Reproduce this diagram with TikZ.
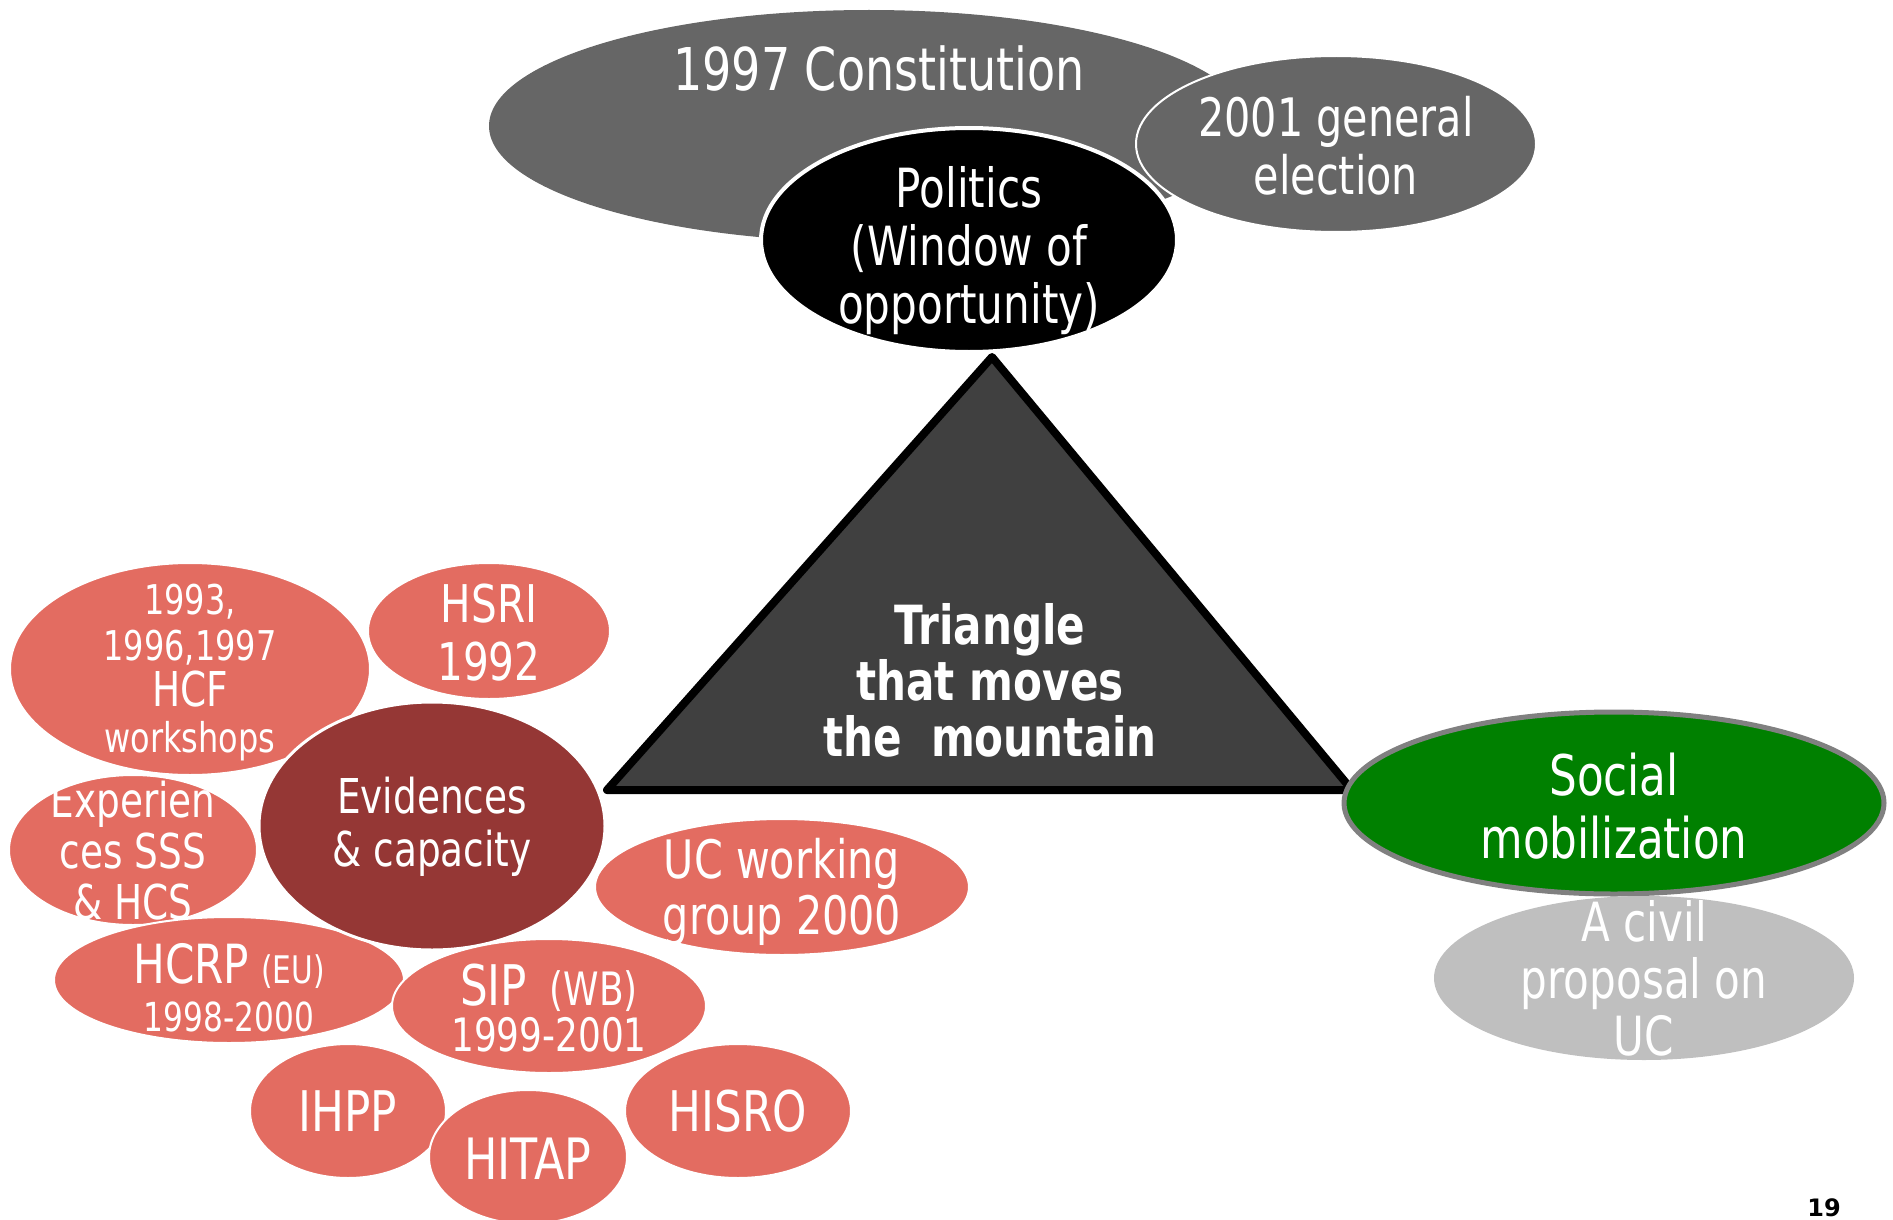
\documentclass[tikz,border=0pt]{standalone}
\usepackage{fontspec}
\newfontfamily\nf[FakeStretch=0.78]{DejaVu Sans}
\newfontfamily\pf{DejaVu Sans}
\definecolor{lred}{RGB}{227,108,97}
\definecolor{dred}{RGB}{149,55,53}
\definecolor{cgray}{RGB}{102,102,102}
\definecolor{tgray}{RGB}{64,64,64}
\definecolor{sgreen}{RGB}{0,128,0}
\definecolor{bgray}{RGB}{128,128,128}
\definecolor{lgray}{RGB}{191,191,191}
\begin{document}
\begin{tikzpicture}[x=1pt,y=-1pt,
  txt/.style={text=white, align=center, inner sep=0pt},
  redell/.style={fill=lred, draw=white, line width=2pt},
  fs/.style 2 args={font=\nf\fontsize{#1}{#2}\selectfont}]
\useasboundingbox (0,0) rectangle (1893,1220);
% top group
\fill[cgray] (869,126) ellipse [x radius=380, y radius=116];
\filldraw[fill=cgray, draw=white, line width=2pt] (1336,144) ellipse [x radius=200, y radius=88];
\filldraw[fill=black, draw=white, line width=4pt] (969,240) ellipse [x radius=208, y radius=112];
\node[txt, fs={59}{64}] (const) at (879,69) {1997 Constitution};
\node[txt, fs={53}{58}] (elect) at (1336,146) {2001 general\\election};
\node[txt, fs={54}{58}] (pol) at (969,251) {Politics\\(Window of\\opportunity)};
% triangle
\filldraw[fill=tgray, draw=black, line width=8pt, line join=round] (992,357) -- (607,790) -- (1352,790) -- cycle;
\node[txt, font=\nf\bfseries\fontsize{54}{56}\selectfont] (tri) at (990,680) {Triangle\\that moves\\the\ \ mountain};
% red cluster
\filldraw[redell] (190,669) ellipse [x radius=180, y radius=106];
\filldraw[redell] (489,631) ellipse [x radius=121, y radius=68];
\filldraw[redell] (133,850) ellipse [x radius=124, y radius=75];
\filldraw[redell] (782,887) ellipse [x radius=187, y radius=68];
\filldraw[redell] (229,980) ellipse [x radius=175, y radius=63];
\filldraw[fill=dred, draw=white, line width=3pt] (432,826) ellipse [x radius=173, y radius=124];
\filldraw[redell] (549,1006) ellipse [x radius=157, y radius=67];
\filldraw[redell] (348,1111) ellipse [x radius=98, y radius=67];
\filldraw[redell] (738,1111) ellipse [x radius=113, y radius=67];
\filldraw[redell] (528,1157) ellipse [x radius=99, y radius=67];
\node[txt, fs={41}{46}] (hcf) at (190,673) {1993,\\1996,1997\\{\fontsize{48}{46}\selectfont HCF}\\workshops};
\node[txt, fs={52}{58}] (hsri) at (489,633) {HSRI\\1992};
\node[txt, fs={48}{51}] (exp) at (133,851) {Experien\\ces SSS\\\& HCS};
\node[txt, fs={53}{56}] (uc) at (782,892) {UC working\\group 2000};
\node[txt, fs={48}{48}] (hcrp) at (229,988) {{\fontsize{54}{50}\selectfont HCRP} {\fontsize{38}{38}\selectfont (EU)}\\{\fontsize{40}{48}\selectfont 1998-2000}};
\node[txt, fs={48}{53}] (evid) at (432,827) {Evidences\\\& capacity};
\node[txt, fs={46}{46}] (sip) at (549,1008) {{\fontsize{56}{50}\selectfont SIP}\ \ {\fontsize{46}{42}\selectfont (WB)}\\1999-2001};
\node[txt, fs={56}{56}] (ihpp) at (348,1111) {IHPP};
\node[txt, fs={56}{56}] (hisro) at (738,1111) {HISRO};
\node[txt, fs={57}{57}] (hitap) at (528,1159) {HITAP};
% right group
\filldraw[fill=sgreen, draw=bgray, line width=5pt] (1614,803) ellipse [x radius=270, y radius=91];
\fill[lgray] (1644,978) ellipse [x radius=210, y radius=82];
\node[txt, fs={56}{63}] (soc) at (1614,806) {Social\\mobilization};
\node[txt, fs={54}{57}] (civ) at (1644,978) {A civil\\proposal on\\UC};
\node[inner sep=0pt, font=\pf\bfseries\fontsize{24}{24}\selectfont] (pg) at (1824,1208) {19};
\end{tikzpicture}
\end{document}
